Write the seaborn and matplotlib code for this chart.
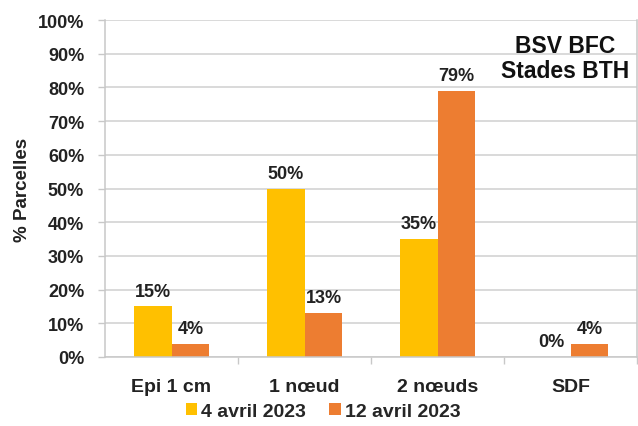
import matplotlib
matplotlib.use("Agg")
import matplotlib.pyplot as plt
import seaborn as sns
import pandas as pd
from matplotlib.ticker import FixedLocator

categories = ["Epi 1 cm", "1 nœud", "2 nœuds", "SDF"]
series_names = ["4 avril 2023", "12 avril 2023"]
values_4avril = [15, 50, 35, 0]
values_12avril = [4, 13, 79, 4]
yticks = [0, 10, 20, 30, 40, 50, 60, 70, 80, 90, 100]

sns.set_theme(style="white")
plt.rcParams["font.family"] = ["Liberation Sans", "DejaVu Sans"]
plt.rcParams["font.weight"] = "bold"

df = pd.DataFrame({
    "Stade": categories * 2,
    "Date": [series_names[0]] * len(categories) + [series_names[1]] * len(categories),
    "Valeur": values_4avril + values_12avril,
})

fig = plt.figure(figsize=(6.38, 4.27), dpi=100)
ax = fig.add_axes([105/638, 69/427, 532/638, 337/427])

colors = ["#FFC000", "#ED7D31"]
sns.barplot(data=df, x="Stade", y="Valeur", hue="Date", palette=colors,
            width=0.57, gap=0, ax=ax, errorbar=None, saturation=1,
            edgecolor="none", linewidth=0)

ax.set_ylim(0, 100)
ax.set_xlim(-0.5, 3.5)
ax.set_yticks(yticks)
ax.set_yticklabels([f"{v}%" for v in yticks], fontsize=13, fontweight="bold", color="#222222")
ax.set_xticklabels(categories, fontsize=14, fontweight="bold", color="#222222")
ax.yaxis.grid(True, color="#D0D0D0", linewidth=1.1)
ax.set_axisbelow(True)
ax.tick_params(axis="y", which="major", length=5, color="#C8C8C8", width=1, pad=10, left=True)
ax.tick_params(axis="x", which="major", length=0, pad=15)
ax.xaxis.set_minor_locator(FixedLocator([0.5, 1.5, 2.5, 3.5]))
ax.tick_params(axis="x", which="minor", length=5, color="#C8C8C8", width=1, bottom=True)

ax.spines["top"].set_visible(False)
for side in ["left", "bottom", "right"]:
    ax.spines[side].set_color("#C8C8C8")
    ax.spines[side].set_linewidth(1.1)

ax.set_xlabel("")
ax.set_ylabel("% Parcelles", fontsize=13.5, fontweight="bold", color="#222222")
ax.yaxis.set_label_coords(-0.14, 0.5)

for cont in ax.containers:
    ax.bar_label(cont, labels=[f"{int(round(v))}%" for v in cont.datavalues],
                 padding=5, fontsize=13, fontweight="bold", color="#222222")

ax.text(0.865, 0.957, "BSV BFC\nStades BTH", transform=ax.transAxes, ha="center", va="top",
        fontsize=16.5, fontweight="bold", color="#111111", linespacing=1.1)

handles, labels = ax.get_legend_handles_labels()
ax.legend(handles, labels, loc="upper center", bbox_to_anchor=(0.41, -0.085), ncol=2,
          frameon=False, prop={"weight": "bold", "size": 14},
          handlelength=0.6, handleheight=0.6, handletextpad=0.2, columnspacing=1.2)

fig.savefig("out.png", dpi=100)
